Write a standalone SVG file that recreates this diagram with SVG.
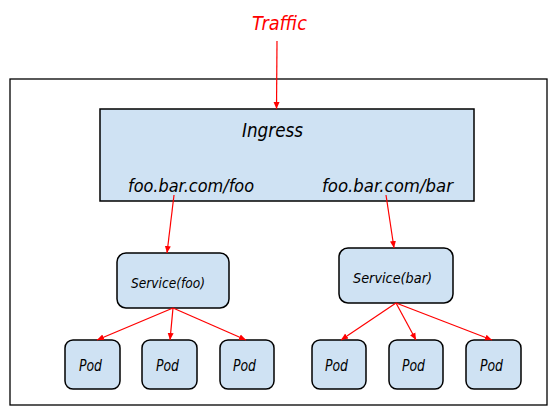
<svg xmlns="http://www.w3.org/2000/svg" width="557" height="413" viewBox="0 0 557 413">
<defs>
<marker id="ah" markerWidth="8" markerHeight="8" refX="7" refY="4" orient="auto" markerUnits="userSpaceOnUse">
<path d="M0,1 L7,4 L0,7 Z" fill="#ff0000"/>
</marker>
<style>
.box{fill:#cfe2f3;stroke:#000;stroke-width:1.5}
.t{font-family:"DejaVu Sans","Liberation Sans",sans-serif;font-style:italic;fill:#000}
.c{stroke:#ff0000;stroke-width:1.2;fill:none;marker-end:url(#ah)}
</style>
</defs>
<rect x="0" y="0" width="557" height="413" fill="#fff"/>
<g id="frame"><rect x="10" y="79" width="537" height="326" fill="none" stroke="#000" stroke-width="1.3"/></g>
<g id="traffic"><text class="t" x="252" y="30" font-size="19" textLength="55" lengthAdjust="spacingAndGlyphs" style="fill:#ff0000">Traffic</text></g>
<g id="ingress">
<rect class="box" x="100" y="109" width="374" height="92"/>
<text class="t" x="242" y="137" font-size="19" textLength="61" lengthAdjust="spacingAndGlyphs">Ingress</text>
<text class="t" x="128" y="192" font-size="18" textLength="126" lengthAdjust="spacingAndGlyphs">foo.bar.com/foo</text>
<text class="t" x="322" y="192" font-size="18" textLength="131" lengthAdjust="spacingAndGlyphs">foo.bar.com/bar</text>
</g>
<g id="service-foo">
<rect class="box" x="117" y="253" width="112" height="55" rx="9"/>
<text class="t" x="131" y="288" font-size="14" textLength="74" lengthAdjust="spacingAndGlyphs">Service(foo)</text>
</g>
<g id="service-bar">
<rect class="box" x="339" y="248" width="114" height="55" rx="9"/>
<text class="t" x="353" y="283" font-size="14" textLength="79" lengthAdjust="spacingAndGlyphs">Service(bar)</text>
</g>
<g id="pod1"><rect class="box" x="65" y="340" width="55" height="49" rx="8"/><text class="t" x="79" y="371" font-size="15" textLength="23" lengthAdjust="spacingAndGlyphs">Pod</text></g>
<g id="pod2"><rect class="box" x="142" y="340" width="55" height="49" rx="8"/><text class="t" x="156" y="371" font-size="15" textLength="23" lengthAdjust="spacingAndGlyphs">Pod</text></g>
<g id="pod3"><rect class="box" x="220" y="340" width="54" height="49" rx="8"/><text class="t" x="233" y="371" font-size="15" textLength="23" lengthAdjust="spacingAndGlyphs">Pod</text></g>
<g id="pod4"><rect class="box" x="312" y="340" width="54" height="49" rx="8"/><text class="t" x="325" y="371" font-size="15" textLength="23" lengthAdjust="spacingAndGlyphs">Pod</text></g>
<g id="pod5"><rect class="box" x="389" y="340" width="54" height="49" rx="8"/><text class="t" x="402" y="371" font-size="15" textLength="23" lengthAdjust="spacingAndGlyphs">Pod</text></g>
<g id="pod6"><rect class="box" x="466" y="340" width="55" height="49" rx="8"/><text class="t" x="480" y="371" font-size="15" textLength="23" lengthAdjust="spacingAndGlyphs">Pod</text></g>
<g id="connectors">
<line class="c" x1="277" y1="41" x2="276.5" y2="109"/>
<line class="c" x1="174" y1="195" x2="167" y2="253"/>
<line class="c" x1="386" y1="195" x2="394" y2="248"/>
<line class="c" x1="173" y1="308" x2="97" y2="340"/>
<line class="c" x1="173" y1="308" x2="170" y2="340"/>
<line class="c" x1="173" y1="308" x2="246" y2="340"/>
<line class="c" x1="396" y1="303" x2="341" y2="340"/>
<line class="c" x1="396" y1="303" x2="416" y2="340"/>
<line class="c" x1="396" y1="303" x2="492" y2="340"/>
</g>
</svg>
